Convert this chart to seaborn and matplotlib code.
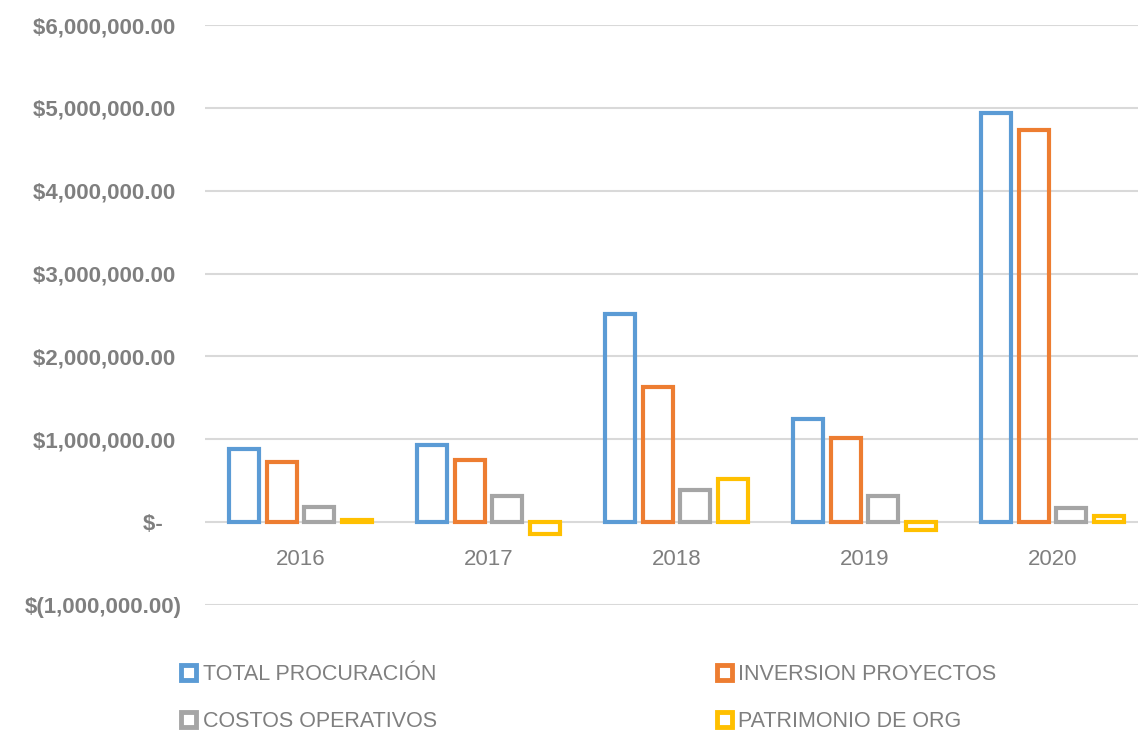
import matplotlib
matplotlib.use("Agg")
import matplotlib.pyplot as plt
from matplotlib.patches import Patch
import pandas as pd
import seaborn as sns

# data
years = ["2016", "2017", "2018", "2019", "2020"]
series = ["TOTAL PROCURACIÓN", "INVERSION PROYECTOS", "COSTOS OPERATIVOS", "PATRIMONIO DE ORG"]
total_procuracion = [880000, 930000, 2510000, 1240000, 4940000]
inversion_proyectos = [720000, 750000, 1630000, 1020000, 4730000]
costos_operativos = [180000, 310000, 390000, 310000, 170000]
patrimonio_org = [30000, -140000, 520000, -100000, 70000]
colors = ["#5B9BD5", "#ED7D31", "#A5A5A5", "#FFC000"]
ytick_values = [-1000000, 0, 1000000, 2000000, 3000000, 4000000, 5000000, 6000000]
ytick_labels = ["$(1,000,000.00)", "$-   ", "$1,000,000.00 ", "$2,000,000.00 ",
                "$3,000,000.00 ", "$4,000,000.00 ", "$5,000,000.00 ", "$6,000,000.00 "]

rows = []
for name, vals in zip(series, [total_procuracion, inversion_proyectos, costos_operativos, patrimonio_org]):
    for y, v in zip(years, vals):
        rows.append({"year": y, "serie": name, "value": v})
df = pd.DataFrame(rows)

sns.set_theme(style="white")
plt.rcParams['font.family'] = ['Liberation Sans', 'DejaVu Sans']

fig = plt.figure(figsize=(11.38, 7.30), dpi=100)
ax = fig.add_axes([205 / 1138, 125 / 730, 933 / 1138, 580 / 730])

sns.barplot(data=df, x="year", y="value", hue="serie", palette=colors,
            fill=False, linewidth=3, gap=0.2, errorbar=None, ax=ax, zorder=3)

ax.set_ylim(-1000000, 6000000)
ax.set_xlim(-0.508, 4.455)
ax.set_yticks(ytick_values)
ax.set_yticklabels(ytick_labels)
ax.yaxis.grid(True, color="#D9D9D9", linewidth=1.5, zorder=0)
ax.set_axisbelow(True)
for s in ax.spines.values():
    s.set_visible(False)
ax.spines['bottom'].set_position(('data', 0))
ax.tick_params(axis='y', length=0, pad=17, labelsize=16, labelcolor="#7F7F7F")
ax.tick_params(axis='x', length=0, pad=19, labelsize=16, labelcolor="#7F7F7F")
for lbl in ax.get_yticklabels():
    lbl.set_fontweight("bold")
ax.set_xlabel("")
ax.set_ylabel("")

ax.get_legend().remove()
handles = [Patch(facecolor="white", edgecolor=c, linewidth=3.5) for c in colors]
order = [0, 2, 1, 3]
fig.legend([handles[i] for i in order], [series[i] for i in order],
           ncol=2, loc="upper left", bbox_to_anchor=(162 / 1138, 1 - 645 / 730),
           frameon=False, fontsize=15.5, labelcolor="#7F7F7F",
           handlelength=0.7, handleheight=0.7, handletextpad=0.3,
           columnspacing=13.0, labelspacing=1.2)

fig.savefig("out.png", dpi=100)
